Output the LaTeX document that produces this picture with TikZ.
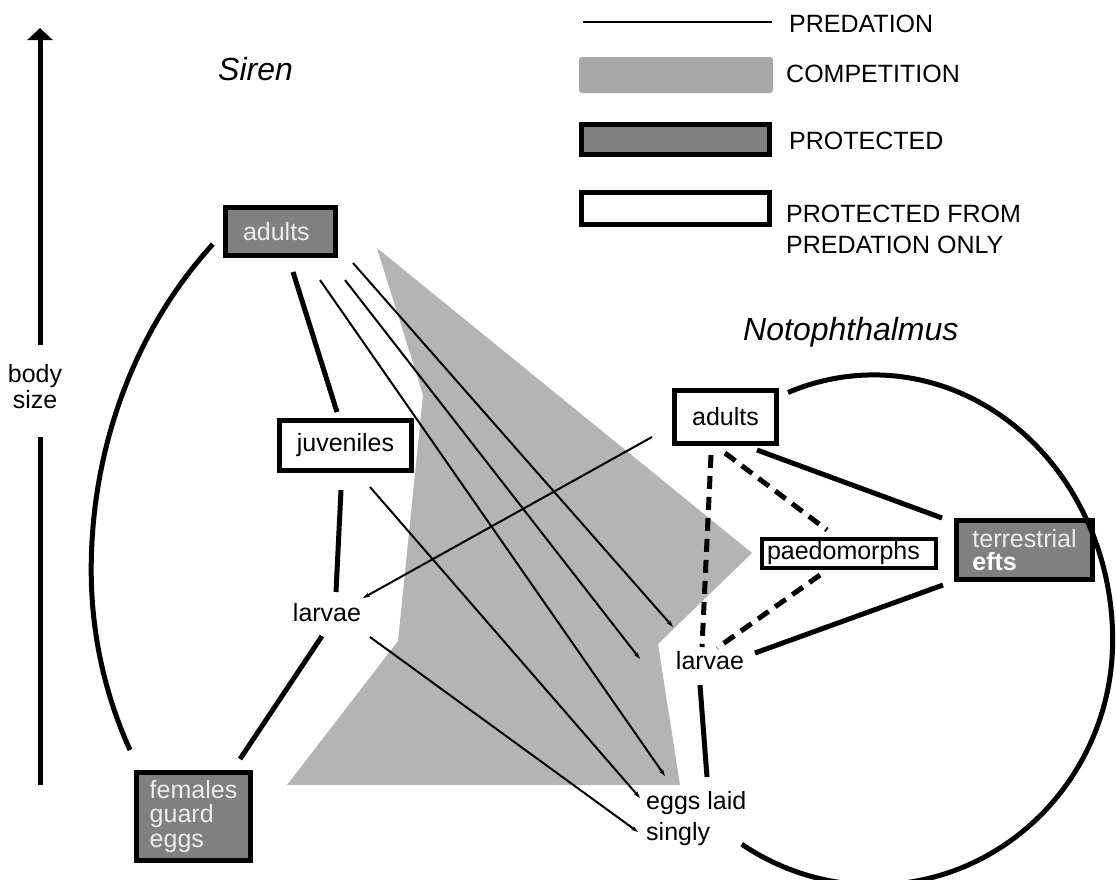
\documentclass[tikz,border=0pt]{standalone}
\usepackage{fontspec}
\setmainfont{Liberation Sans}
\usetikzlibrary{arrows.meta,calc}
\definecolor{compgrey}{RGB}{180,180,180}
\definecolor{leggrey}{RGB}{168,168,168}
\definecolor{protgrey}{RGB}{128,128,128}
\definecolor{boxtext}{RGB}{236,236,236}
\begin{document}
\begin{tikzpicture}[x=1pt,y=-1pt,
  font=\fontsize{25}{26}\selectfont,
  prot/.style={draw, line width=5pt, fill=protgrey, text=boxtext, inner sep=0pt, rectangle},
  free/.style={draw, line width=5pt, fill=white, inner sep=0pt, rectangle},
  lbl/.style={inner sep=0pt},
  life/.style={line width=5pt},
  dlife/.style={line width=5pt, dash pattern=on 13pt off 8pt},
  pred/.style={line width=2pt, -{Stealth[length=7pt,width=4.5pt]}},
  axisline/.style={line width=5pt},
  title/.style={inner sep=0pt, anchor=base west, font=\fontsize{32}{34}\selectfont\itshape}]
\useasboundingbox (0,0) rectangle (1116,879);

% competition area
\fill[compgrey] (377,248) -- (752,553) -- (658,644) -- (680,785) -- (287,785) -- (398,641) -- (423,395) -- cycle;

% legend
\coordinate (lpA) at (583,22);
\coordinate (lpB) at (772,22);
\draw[line width=2pt] (lpA) -- (lpB);
\node[lbl, anchor=west] (lgPred) at (789,23.4) {PREDATION};
\fill[leggrey, rounded corners=3pt] (579,57) rectangle (773,93);
\node[lbl, anchor=west] (lgComp) at (786,74.3) {COMPETITION};
\node[prot, minimum width=188pt, minimum height=30pt] (lgProtBox) at (675.5,139.5) {};
\node[lbl, anchor=west] (lgProt) at (789,141) {PROTECTED};
\node[free, minimum width=188pt, minimum height=32pt] (lgFreeBox) at (675.5,208.5) {};
\node[lbl, anchor=west, align=left, font=\fontsize{25}{31}\selectfont] (lgFree) at (786,229) {PROTECTED FROM\\PREDATION ONLY};

% body size axis
\node[lbl, align=center] (body) at (35,387) {body\\size};
\coordinate (axTop) at (40,28);
\coordinate (axBot) at (40,785);
\draw[axisline, -{Triangle[length=12pt,width=25pt]}] (body.north -| axTop) ++(0,-20) -- (axTop);
\draw[axisline] (body.south -| axBot) ++(0,28) -- (axBot);

% titles
\node[title] (tSiren) at (218,80) {Siren};
\node[title] (tNoto) at (743,340) {Notophthalmus};

% Siren nodes
\node[prot, minimum width=110pt, minimum height=48pt, text width=75pt, inner xsep=17.5pt, align=left] (sA) at (280.5,231.5) {adults};
\node[free, minimum width=132pt, minimum height=50pt] (sJ) at (345.5,445.5) {juveniles};
\node[lbl] (sL) at (327,613) {larvae};
\node[prot, minimum width=114pt, minimum height=88pt, align=left, font=\fontsize{25}{24.5}\selectfont] (sF) at (193.5,816.5) {females\\guard\\eggs};

% Notophthalmus nodes
\node[free, minimum width=102pt, minimum height=53pt] (nA) at (725.5,417) {adults};
\node[free, line width=4pt, minimum width=174pt, minimum height=29pt, text width=164pt, inner xsep=4pt, align=left] (nP) at (849,553.5) {paedomorphs};
\node[prot, minimum width=136pt, minimum height=59pt, align=left, font=\fontsize{25}{23}\selectfont] (nE) at (1024.5,550) {terrestrial\\{\color{white}\bfseries efts}};
\node[lbl] (nL) at (710,661) {larvae};
\node[lbl, anchor=west, align=left, font=\fontsize{25}{31}\selectfont] (eggs) at (646,819) {eggs laid\\singly};

% Siren life cycle
\draw[life] ($(sA)+(12.5,40.5)$) -- ($(sJ)+(-8.5,-33.5)$);
\draw[life] ($(sJ)+(-4.5,44.5)$) -- ($(sL)+(9,-21)$);
\draw[life] ($(sL)+(-5,23)$) -- ($(sF)+(46.5,-57.5)$);
\draw[life] ($(sF)+(-63.5,-66.5)$)
  arc[start angle=154.3, end angle=180, x radius=392, y radius=415]
  arc[start angle=180, end angle=226.4, x radius=392, y radius=450];

% Notophthalmus life cycle
\draw[life] ($(nA)+(31.5,33)$) -- ($(nE)+(-82.5,-32)$);
\draw[life] ($(nE)+(-81.5,35)$) -- ($(nL)+(45,-8)$);
\draw[dlife] ($(nA)+(-14.5,38)$) -- ($(nL)+(-8,-14)$);
\draw[dlife] ($(nA)+(-0.5,36)$) -- ($(nP)+(-22,-23.5)$);
\draw[dlife] ($(nP)+(-29,21.5)$) -- ($(nL)+(7,-13)$);
\draw[life] ($(nL)+(-10,24)$) -- ($(eggs.west)+(61,-42)$);
\draw[life] ($(nA)+(62.5,-24.5)$)
  arc[start angle=-111, end angle=0, x radius=239, y radius=265]
  arc[start angle=0, end angle=123.5, x radius=239, y radius=245];

% predation
\draw[pred] ($(sA)+(72.5,31.5)$) -- ($(nL)+(-37,-34)$);
\draw[pred] ($(sA)+(64.5,48.5)$) -- ($(nL)+(-70,-2)$);
\draw[pred] ($(sA)+(39.5,48.5)$) -- ($(eggs.west)+(19,-43)$);
\draw[pred] ($(sJ)+(24.5,41.5)$) -- ($(eggs.west)+(-6,-21)$);
\draw[pred] ($(sL)+(43,24)$) -- ($(eggs.west)+(-8,13)$);
\draw[pred] ($(nA)+(-73.5,20)$) -- ($(sL)+(36,-15)$);
\end{tikzpicture}
\end{document}
